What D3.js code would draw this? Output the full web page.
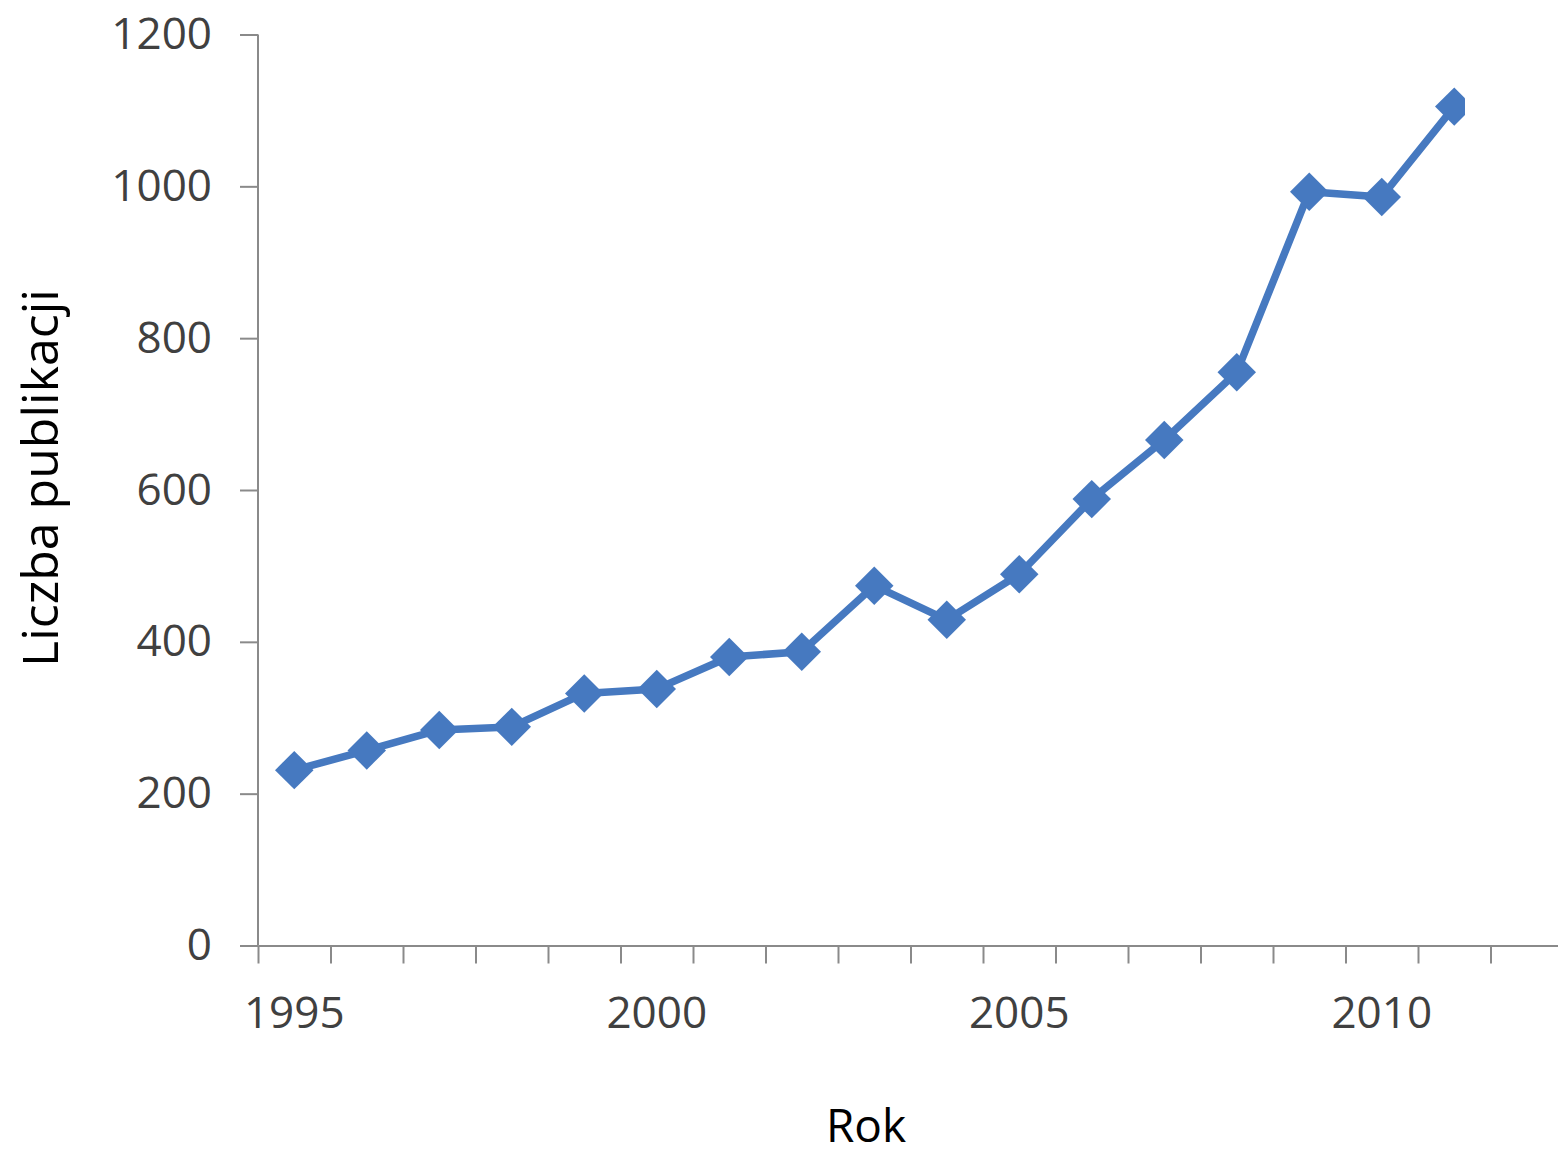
<!DOCTYPE html>
<html><head><meta charset="utf-8">
<script src="https://cdn.jsdelivr.net/npm/d3@7/dist/d3.min.js"></script>
<style>body{margin:0;background:#fff} svg{display:block}</style>
</head><body><svg id="c" width="1558" height="1158"></svg>
<script>
const years = [1995,1996,1997,1998,1999,2000,2001,2002,2003,2004,2005,2006,2007,2008,2009,2010,2011,2012];
const publications = [231,257,284,288,332,338,380,387,474,429,489,588,666,755,993,986,1105,null];
const yTicks = [0,200,400,600,800,1000,1200];
const xLabelYears = [1995,2000,2005,2010];
const xTitle = "Rok";
const yTitle = "Liczba publikacji";

const font = "'Open Sans', sans-serif";
const svg = d3.select("#c");
const x = d3.scaleBand().domain(years).range([258, 1563]);
const xEdge = d3.scaleLinear().domain([0, years.length]).range([258, 1563]);
const y = d3.scaleLinear().domain([0, 1200]).range([945.5, 34.5]);

// y axis
const gy = svg.append("g").attr("transform", "translate(258,0)")
  .call(d3.axisLeft(y).tickValues(yTicks).tickFormat(d3.format("d")).tickSize(18).tickSizeOuter(0).tickPadding(28));
gy.selectAll("path,line").attr("stroke", "#8a8a8a").attr("stroke-width", 2);
gy.selectAll("text").attr("font-family", font).attr("font-size", 44).attr("fill", "#404040");
gy.select(".domain").remove();
svg.append("line").attr("x1", 258).attr("x2", 258).attr("y1", y(1200)).attr("y2", y(0))
  .attr("stroke", "#8a8a8a").attr("stroke-width", 2);

// x axis (category boundaries)
const gx = svg.append("g").attr("transform", `translate(0,${y(0)})`)
  .call(d3.axisBottom(xEdge).tickValues(d3.range(0, years.length + 1)).tickSize(18).tickSizeOuter(0).tickFormat(""));
gx.selectAll("path,line").attr("stroke", "#8a8a8a").attr("stroke-width", 2);

svg.append("g").selectAll("text").data(xLabelYears).join("text")
  .attr("x", d => x(d) + x.bandwidth() / 2).attr("y", 1028)
  .attr("text-anchor", "middle").attr("font-family", font).attr("font-size", 44).attr("fill", "#404040")
  .text(d => d);

// titles
svg.append("text").attr("x", 866).attr("y", 1142).attr("text-anchor", "middle")
  .attr("font-family", font).attr("font-size", 46).attr("fill", "#000").text(xTitle);
svg.append("text").attr("transform", "translate(58,478) rotate(-90)").attr("text-anchor", "middle")
  .attr("font-family", font).attr("font-size", 50).attr("fill", "#000").text(yTitle);

// series
svg.append("clipPath").attr("id", "clip").append("rect")
  .attr("x", 0).attr("y", 0).attr("width", 1465).attr("height", 1158);
const pts = years.map((yr, i) => ({yr, v: publications[i]})).filter(d => d.v != null);
const color = "#4679c0";
const gs = svg.append("g").attr("clip-path", "url(#clip)");
gs.append("path").datum(pts)
  .attr("d", d3.line().x(d => x(d.yr) + x.bandwidth() / 2).y(d => y(d.v)))
  .attr("fill", "none").attr("stroke", color).attr("stroke-width", 7.5).attr("stroke-linejoin", "round");
const diamond = d3.symbol().type(d3.symbolSquare).size(740);
gs.selectAll(".m").data(pts).join("path").attr("class", "m")
  .attr("d", diamond())
  .attr("transform", d => `translate(${x(d.yr) + x.bandwidth() / 2},${y(d.v)}) rotate(45)`)
  .attr("fill", color);
</script></body></html>
